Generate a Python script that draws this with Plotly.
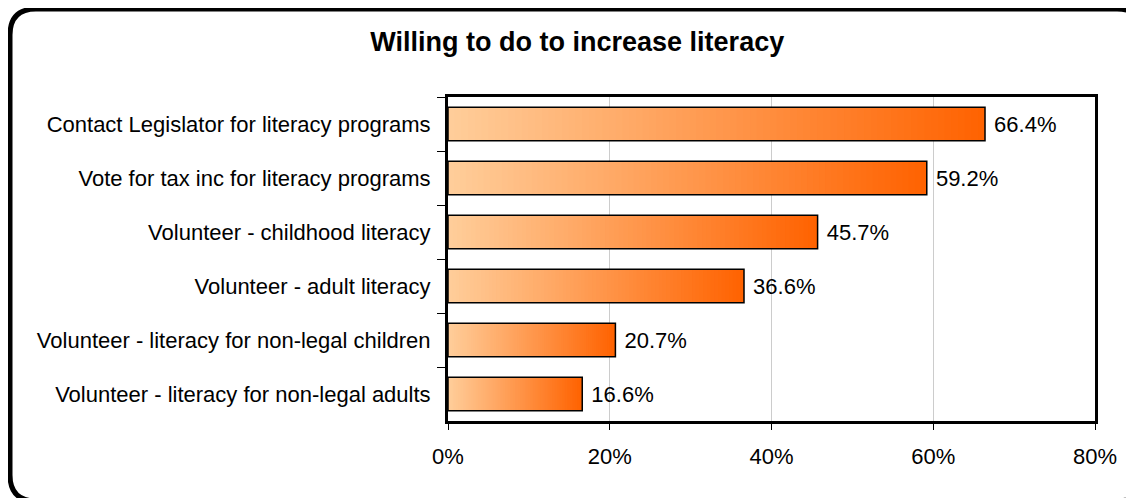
import plotly.graph_objects as go

categories = [
    "Contact Legislator for literacy programs",
    "Vote for tax inc for literacy programs",
    "Volunteer - childhood literacy",
    "Volunteer - adult literacy",
    "Volunteer - literacy for non-legal children",
    "Volunteer - literacy for non-legal adults",
]
values = [66.4, 59.2, 45.7, 36.6, 20.7, 16.6]
value_labels = ["66.4%", "59.2%", "45.7%", "36.6%", "20.7%", "16.6%"]
x_tickvals = [0, 20, 40, 60, 80]
x_ticktext = ["0%", "20%", "40%", "60%", "80%"]
title = "Willing to do to increase literacy"

W, H = 1134, 498
# page body has an 8px margin; positions below are in figure pixels
L, R, T, B = 440, 47, 89, 85
PW, PH = W - L - R, H - T - B

FONT = "Liberation Sans, Arial, sans-serif"
c0 = (255, 206, 155)
c1 = (255, 98, 0)
N = 80
BW = 0.62

fig = go.Figure()
for k in range(N):
    f = (k + 0.5) / N
    col = tuple(round(c0[i] + (c1[i] - c0[i]) * f) for i in range(3))
    bases = [v * k / N for v in values]
    widths = [min(2 * v / N, v - b) for v, b in zip(values, bases)]
    fig.add_trace(go.Bar(
        y=categories,
        x=widths,
        base=bases,
        orientation="h",
        width=BW,
        marker=dict(color="rgb(%d,%d,%d)" % col, line=dict(width=0)),
        hoverinfo="skip",
        showlegend=False,
    ))
fig.add_trace(go.Bar(
    y=categories,
    x=values,
    orientation="h",
    width=BW,
    marker=dict(color="rgba(0,0,0,0)", line=dict(color="black", width=1.5)),
    text=[" " + t for t in value_labels],
    textposition="outside",
    textfont=dict(family=FONT, size=22, color="black"),
    cliponaxis=False,
    showlegend=False,
))


def px(x):
    return (x - L) / PW


def py(y):
    return (H - B - y) / PH


x1, x2, y1, y2, r = 2, 1135, 1, 493, 26
path = (
    f"M {px(x1 + r)} {py(y1)} L {px(x2 - r)} {py(y1)} "
    f"Q {px(x2)} {py(y1)} {px(x2)} {py(y1 + r)} L {px(x2)} {py(y2 - r)} "
    f"Q {px(x2)} {py(y2)} {px(x2 - r)} {py(y2)} L {px(x1 + r)} {py(y2)} "
    f"Q {px(x1)} {py(y2)} {px(x1)} {py(y2 - r)} L {px(x1)} {py(y1 + r)} "
    f"Q {px(x1)} {py(y1)} {px(x1 + r)} {py(y1)} Z"
)

fig.update_layout(
    width=W, height=H,
    margin=dict(l=L, r=R, t=T, b=B),
    barmode="overlay",
    plot_bgcolor="white",
    paper_bgcolor="white",
    font=dict(family=FONT, size=22, color="black"),
    title=dict(text="<b>" + title + "</b>", x=0.502, xanchor="center",
               y=1 - 34 / H, yanchor="middle",
               font=dict(family=FONT, size=27, color="black")),
    shapes=[dict(type="path", xref="paper", yref="paper", path=path,
                 line=dict(color="black", width=5), layer="above")],
    xaxis=dict(range=[0, 80], tickvals=x_tickvals, ticktext=x_ticktext,
               showgrid=True, gridcolor="#cccccc", gridwidth=1,
               showline=True, linecolor="black", linewidth=3, mirror=True,
               ticks="outside", ticklen=6, tickcolor="black",
               ticklabelstandoff=8, zeroline=False,
               tickfont=dict(family=FONT, size=22)),
    yaxis=dict(categoryorder="array", categoryarray=categories,
               autorange="reversed", tickson="boundaries",
               showgrid=False, showline=True, linecolor="black", linewidth=3,
               mirror=True, ticks="outside", ticklen=8, tickcolor="black",
               ticklabelstandoff=10,
               tickfont=dict(family=FONT, size=22)),
)

fig.write_html("out.html")
